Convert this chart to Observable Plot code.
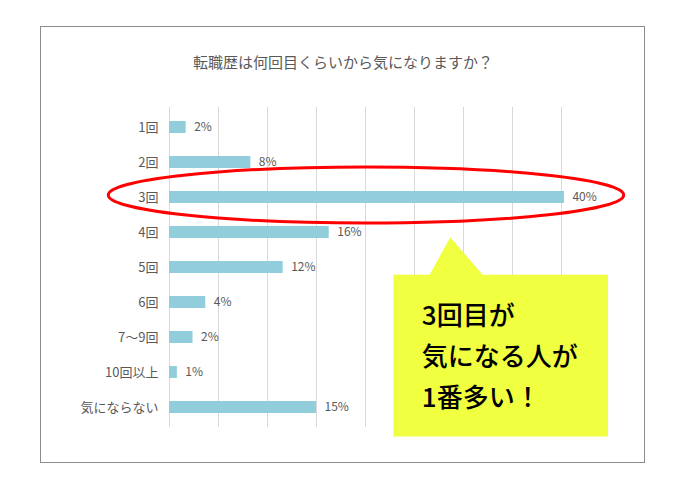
<!DOCTYPE html>
<html><head><meta charset="utf-8">
<script src="https://cdn.jsdelivr.net/npm/d3@7"></script>
<script src="https://cdn.jsdelivr.net/npm/@observablehq/plot@0.6"></script>
<style>
body{margin:0;background:#fff;font-family:"Noto Sans CJK JP",sans-serif;}
#wrap{position:relative;width:680px;height:480px;overflow:hidden;}
#frame{position:absolute;left:40px;top:26px;width:603px;height:435px;border:1.5px solid #8c8c8c;box-sizing:content-box;}
#title{position:absolute;left:3px;width:680px;top:51px;text-align:center;font-size:15px;color:#595959;line-height:22px;}
#chart{position:absolute;left:0;top:0;}
</style></head>
<body><div id="wrap"><div id="frame"></div><div id="title">転職歴は何回目くらいから気になりますか？</div><div id="chart"></div></div>
<script>
const categories = ["1回","2回","3回","4回","5回","6回","7～9回","10回以上","気にならない"];
const values = [1.7, 8.3, 40.3, 16.3, 11.6, 3.7, 2.4, 0.8, 15.0];
const valueLabels = ["2%","8%","40%","16%","12%","4%","2%","1%","15%"];
const gridTicks = [0,5,10,15,20,25,30,35,40];
const calloutLines = ["3回目が","気になる人が","1番多い！"];
const highlight = "3回";

const data = categories.map((c,i)=>({cat:c, value:values[i], label:valueLabels[i]}));

const plot = Plot.plot({
  width:680, height:480,
  marginLeft:169, marginRight:119, marginTop:107, marginBottom:53,
  x:{domain:[0,40], axis:null},
  y:{domain:categories, paddingInner:0.66, paddingOuter:0.33, label:null, axis:null},
  style:{background:"none", fontFamily:'"Noto Sans CJK JP", sans-serif', color:"#595959", overflow:"visible"},
  marks:[
    Plot.ruleX(gridTicks,{stroke:"#d9d9d9", strokeWidth:1, strokeOpacity:1}),
    Plot.barX(data,{x:"value", y:"cat", fill:"#92CDDC"}),
    Plot.text(data,{x:"value", y:"cat", text:"label", dx:8, textAnchor:"start", fill:"#595959", fontSize:12}),
    Plot.axisY({tickSize:0, tickPadding:11, fontSize:13, fill:"#595959"})
  ]
});
document.getElementById("chart").appendChild(plot);

const sx = plot.scale("x"), sy = plot.scale("y");
const step = sy.apply(categories[1]) - sy.apply(categories[0]);
const center = c => sy.apply(c) + sy.bandwidth/2;
const svg = d3.select(plot);
const g = svg.append("g");

// callout
const xL = sx.apply(22.9), xR = sx.apply(44.8);
const yT = center("5回") + 0.22*step, yB = center("気にならない") + 0.84*step;
const b1 = sx.apply(26.6), b2 = sx.apply(32.0), ax = sx.apply(28.7), ay = center("4回") + 0.15*step;
g.append("path")
  .attr("d",`M${xL},${yT}L${b1},${yT}L${ax},${ay}L${b2},${yT}L${xR},${yT}L${xR},${yB}L${xL},${yB}Z`)
  .attr("fill","#F0FF40");
const tx = sx.apply(25.8);
calloutLines.forEach((t,i)=>{
  g.append("text").attr("x",tx).attr("y",yT + 50 + i*41)
   .attr("text-anchor","start")
   .attr("font-size",26).attr("font-weight",500).attr("fill","#000")
   .attr("font-family",'"Noto Sans CJK JP", sans-serif').text(t);
});

// highlight ellipse
g.append("ellipse")
  .attr("cx", sx.apply(20.1)).attr("cy", center(highlight) - 2)
  .attr("rx", sx.apply(26.3)-sx.apply(0)).attr("ry", 0.8*step)
  .attr("fill","none").attr("stroke","#ff0000").attr("stroke-width",3);
</script>
</body></html>
